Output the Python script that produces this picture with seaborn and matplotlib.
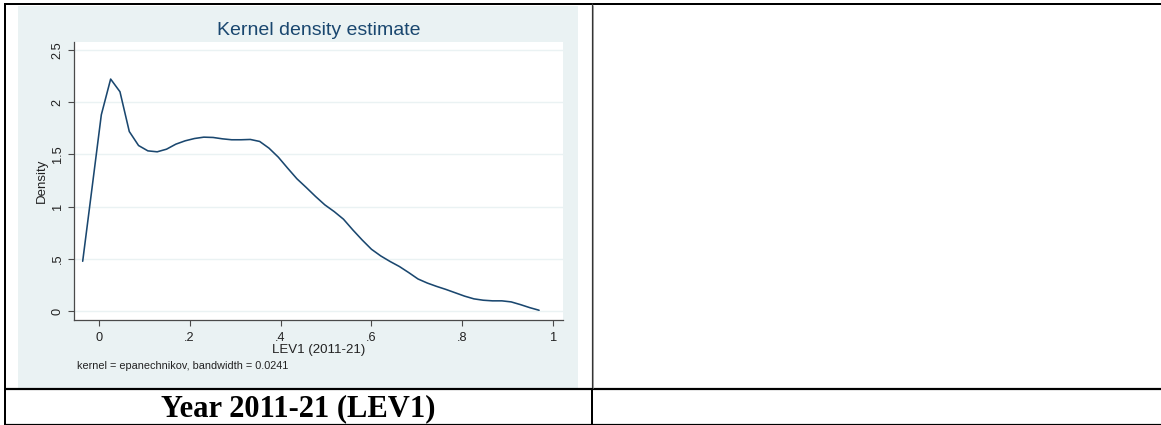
import matplotlib
matplotlib.use("Agg")
import matplotlib.pyplot as plt
from matplotlib.lines import Line2D
from matplotlib.patches import Rectangle
import seaborn as sns
import pandas as pd

# Kernel density of LEV1 (2011-21), evaluated on a 50-point grid
lev1_grid = [
    -0.0352, -0.0147, 0.0058, 0.0263, 0.0468, 0.0673, 0.0877, 0.1082, 0.1287, 0.1492,
    0.1697, 0.1902, 0.2107, 0.2312, 0.2517, 0.2722, 0.2926, 0.3131, 0.3336, 0.3541,
    0.3746, 0.3951, 0.4156, 0.4361, 0.4566, 0.4771, 0.4975, 0.5180, 0.5385, 0.5590,
    0.5795, 0.6000, 0.6205, 0.6410, 0.6615, 0.6820, 0.7024, 0.7229, 0.7434, 0.7639,
    0.7844, 0.8049, 0.8254, 0.8459, 0.8664, 0.8869, 0.9073, 0.9278, 0.9483, 0.9688,
]
density = [
    0.478, 1.176, 1.878, 2.219, 2.098, 1.718, 1.584, 1.533, 1.524, 1.549,
    1.597, 1.629, 1.651, 1.664, 1.661, 1.648, 1.639, 1.639, 1.642, 1.623,
    1.559, 1.473, 1.368, 1.266, 1.183, 1.097, 1.017, 0.953, 0.880, 0.778,
    0.682, 0.593, 0.529, 0.476, 0.428, 0.370, 0.309, 0.270, 0.238, 0.209,
    0.177, 0.145, 0.119, 0.106, 0.100, 0.100, 0.090, 0.064, 0.035, 0.010,
]
x_ticks = [0, 0.2, 0.4, 0.6, 0.8, 1.0]
x_ticklabels = ["0", ".2", ".4", ".6", ".8", "1"]
y_ticks = [0, 0.5, 1.0, 1.5, 2.0, 2.5]
y_ticklabels = ["0", ".5", "1", "1.5", "2", "2.5"]

title = "Kernel density estimate"
x_label = "LEV1 (2011-21)"
y_label = "Density"
note = "kernel = epanechnikov, bandwidth = 0.0241"
caption = "Year 2011-21 (LEV1)"

df = pd.DataFrame({"lev1": lev1_grid, "density": density})

sns.set_theme(style="white")
plt.rcParams["font.family"] = ["Liberation Sans", "DejaVu Sans"]

W, H = 1161, 425
fig = plt.figure(figsize=(W / 100, H / 100), dpi=100, facecolor="white")


def fx(x):
    return x / W


def fy(y):
    return 1 - y / H


NAVY = "#1a476f"
BG = "#eaf2f3"
AXIS = "#4a4a4a"

# graph region background
fig.add_artist(Rectangle((fx(18), fy(387.7)), fx(578) - fx(18), fy(6) - fy(387.7),
                         transform=fig.transFigure, facecolor=BG, edgecolor="none", zorder=0))

# plot region
ax_l, ax_r, ax_t, ax_b = 74, 562.7, 41.7, 320
ax = fig.add_axes([fx(ax_l), fy(ax_b), fx(ax_r) - fx(ax_l), fy(ax_t) - fy(ax_b)])
ax.set_facecolor("white")

sns.lineplot(data=df, x="lev1", y="density", ax=ax, color=NAVY, linewidth=1.15,
             sort=False, estimator=None, zorder=3)

ax.set_xlim(-0.0543, 1.0207)
ax.set_ylim(-0.083, 2.576)
ax.set_xticks(x_ticks)
ax.set_xticklabels(x_ticklabels)
ax.set_yticks(y_ticks)
ax.set_yticklabels(y_ticklabels, rotation=90, va="center")

ax.grid(axis="y", color=BG, linewidth=1.0, zorder=1)
ax.grid(axis="x", visible=False)
for side in ("top", "right"):
    ax.spines[side].set_visible(False)
for side in ("left", "bottom"):
    ax.spines[side].set_color(AXIS)
    ax.spines[side].set_linewidth(0.9)

ax.tick_params(axis="both", which="major", length=4.3, width=0.8, color=AXIS,
               labelsize=9.2, labelcolor="#222222")
ax.tick_params(axis="x", pad=4.2, bottom=True)
ax.tick_params(axis="y", pad=3.0, left=True)

ax.set_title(title, color=NAVY, fontsize=14, y=(ax_b - 35) / (ax_b - ax_t), pad=0, va="baseline")

ax.set_xlabel(x_label, fontsize=9.5, color="#222222")
ax.xaxis.set_label_coords(0.5, (ax_b - 344.0) / (ax_b - ax_t))
ax.xaxis.label.set_va("top")

ax.set_ylabel(y_label, fontsize=9.5, color="#222222")
ax.yaxis.set_label_coords((41.5 - ax_l) / (ax_r - ax_l), 0.5)
ax.yaxis.label.set_va("center")

fig.text(fx(76.7), fy(365.7), note, fontsize=7.8, color="#222222", ha="left", va="center")

# caption row
fig.text(fx(298.5), fy(416.5), caption, fontsize=22, fontweight="bold",
         family=["Liberation Serif", "DejaVu Serif"], color="black", ha="center", va="baseline")

# table rules
def rule(x0, y0, x1, y1, lw_px, color="black"):
    fig.add_artist(Line2D([fx(x0), fx(x1)], [fy(y0), fy(y1)], transform=fig.transFigure,
                          color=color, linewidth=lw_px * 0.72, solid_capstyle="butt", zorder=10))


rule(3.5, 4, W, 4, 2)          # top
rule(3.5, 389, W, 389, 2.2)    # between image and caption rows
rule(3.5, 424, W, 424, 1.2)    # bottom
rule(5, 3, 5, 425, 2)          # left
rule(591.5, 3, 591.5, 388, 1.2, "#333333")
rule(593, 5, 593, 388, 1, "#9a9a9a")
rule(592.3, 388, 592.3, 425, 2)

fig.savefig("out.png", dpi=100, facecolor="white")
